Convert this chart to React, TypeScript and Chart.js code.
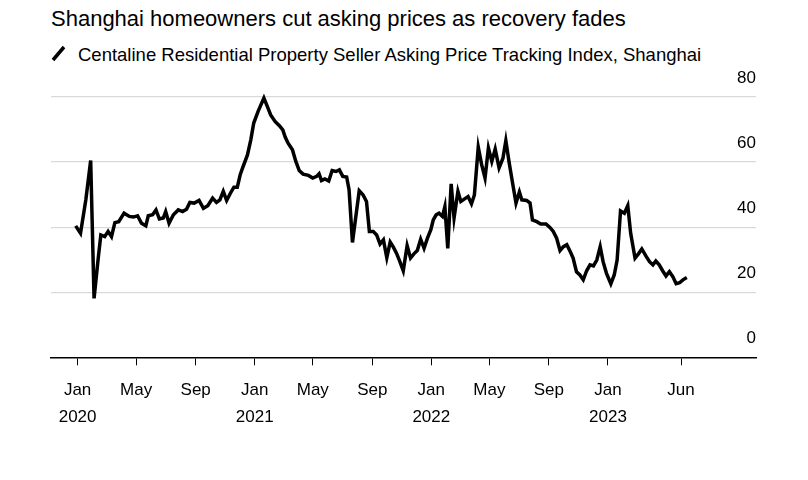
import React, { useEffect, useRef } from "react";
import { Chart, registerables } from "chart.js";

Chart.register(...registerables);

const FONT = '"Liberation Sans", Arial, Helvetica, sans-serif';

const title = "Shanghai homeowners cut asking prices as recovery fades";
const seriesName = "Centaline Residential Property Seller Asking Price Tracking Index, Shanghai";

const dates = [
  "2019-12-28", "2020-01-07", "2020-01-18", "2020-01-28", "2020-02-04", "2020-02-13", "2020-02-18", "2020-02-26",
  "2020-03-04", "2020-03-11", "2020-03-18", "2020-03-26", "2020-04-06", "2020-04-17", "2020-04-25", "2020-05-04",
  "2020-05-12", "2020-05-21", "2020-05-26", "2020-06-04", "2020-06-11", "2020-06-18", "2020-06-26", "2020-07-01",
  "2020-07-08", "2020-07-17", "2020-07-27", "2020-08-05", "2020-08-13", "2020-08-20", "2020-08-29", "2020-09-08",
  "2020-09-17", "2020-09-26", "2020-10-06", "2020-10-14", "2020-10-21", "2020-10-28", "2020-11-04", "2020-11-12",
  "2020-11-19", "2020-11-26", "2020-12-02", "2020-12-07", "2020-12-17", "2020-12-24", "2020-12-30", "2021-01-08",
  "2021-01-20", "2021-01-27", "2021-02-03", "2021-02-12", "2021-02-21", "2021-02-28", "2021-03-05", "2021-03-11",
  "2021-03-20", "2021-03-27", "2021-04-03", "2021-04-11", "2021-04-22", "2021-05-01", "2021-05-09", "2021-05-14",
  "2021-05-19", "2021-05-26", "2021-06-03", "2021-06-10", "2021-06-18", "2021-06-25", "2021-07-02", "2021-07-10",
  "2021-07-15", "2021-07-22", "2021-07-29", "2021-08-05", "2021-08-13", "2021-08-20", "2021-08-26", "2021-09-03",
  "2021-09-10", "2021-09-17", "2021-09-24", "2021-10-01", "2021-10-08", "2021-10-14", "2021-10-21", "2021-10-28",
  "2021-11-04", "2021-11-12", "2021-11-19", "2021-11-26", "2021-12-03", "2021-12-10", "2021-12-17", "2021-12-24",
  "2021-12-31", "2022-01-05", "2022-01-11", "2022-01-17", "2022-01-24", "2022-01-29", "2022-02-04", "2022-02-11",
  "2022-02-17", "2022-02-25", "2022-03-03", "2022-03-10", "2022-03-18", "2022-03-25", "2022-03-31", "2022-04-08",
  "2022-04-15", "2022-04-22", "2022-04-29", "2022-05-06", "2022-05-13", "2022-05-21", "2022-05-29", "2022-06-04",
  "2022-06-11", "2022-06-18", "2022-06-25", "2022-07-02", "2022-07-07", "2022-07-17", "2022-07-24", "2022-07-29",
  "2022-08-07", "2022-08-15", "2022-08-26", "2022-09-03", "2022-09-10", "2022-09-17", "2022-09-24", "2022-10-01",
  "2022-10-08", "2022-10-15", "2022-10-21", "2022-10-28", "2022-11-04", "2022-11-11", "2022-11-18", "2022-11-25",
  "2022-12-02", "2022-12-09", "2022-12-16", "2022-12-22", "2022-12-29", "2023-01-07", "2023-01-14", "2023-01-20",
  "2023-01-27", "2023-02-04", "2023-02-11", "2023-02-17", "2023-02-26", "2023-03-05", "2023-03-12", "2023-03-21",
  "2023-03-28", "2023-04-04", "2023-04-10", "2023-04-17", "2023-04-24", "2023-05-01", "2023-05-08", "2023-05-15",
  "2023-05-22", "2023-05-29", "2023-06-05", "2023-06-13",
];

const values = [
  40.4, 38.1, 48.4, 60.5, 18.1, 31.0, 37.6, 37.1,
  38.7, 37.1, 41.4, 41.7, 44.3, 43.3, 43.1, 43.5,
  41.2, 40.4, 43.5, 43.8, 45.3, 42.5, 42.8, 44.8,
  41.2, 43.8, 45.3, 44.8, 45.5, 47.6, 47.4, 48.2,
  45.8, 46.6, 48.9, 47.6, 48.4, 51.0, 48.2, 50.5,
  52.3, 52.3, 56.1, 58.2, 62.2, 66.9, 72.0, 75.6,
  79.7, 77.1, 74.5, 72.5, 71.2, 69.9, 67.7, 65.8,
  63.8, 60.2, 57.4, 56.3, 55.9, 55.1, 55.6, 56.4,
  54.3, 54.8, 54.2, 57.4, 57.1, 57.6, 55.6, 55.4,
  51.5, 35.3, 43.3, 51.2, 49.9, 47.9, 38.7, 38.7,
  37.6, 34.8, 36.1, 30.6, 35.4, 34.0, 32.0, 29.4,
  26.6, 34.3, 30.5, 31.8, 32.8, 36.3, 33.5, 36.6,
  39.2, 42.2, 43.8, 44.3, 43.3, 46.3, 33.5, 53.3,
  42.8, 51.0, 47.9, 48.6, 49.4, 47.2, 49.9, 64.6,
  59.2, 55.1, 64.3, 60.2, 64.0, 58.2, 61.2, 66.6,
  59.7, 53.5, 47.4, 50.8, 48.4, 48.2, 47.4, 42.2,
  41.7, 41.0, 41.0, 39.9, 38.7, 36.6, 32.8, 34.0,
  34.6, 32.5, 30.5, 26.3, 25.3, 23.8, 26.6, 28.4,
  28.1, 29.9, 34.0, 29.4, 25.8, 22.6, 25.3, 29.9,
  45.0, 44.3, 46.6, 38.1, 30.5, 31.8, 33.3, 31.0,
  29.4, 28.4, 29.6, 28.4, 26.6, 25.0, 26.3, 24.8,
  22.6, 22.9, 23.8, 24.5,
];

const tickDates = [
  "2020-01-01", "2020-05-01", "2020-09-01", "2021-01-01", "2021-05-01", "2021-09-01",
  "2022-01-01", "2022-05-01", "2022-09-01", "2023-01-01", "2023-06-01",
];
const tickLabels = [
  ["Jan", "2020"], "May", "Sep", ["Jan", "2021"], "May", "Sep",
  ["Jan", "2022"], "May", "Sep", ["Jan", "2023"], "Jun",
];
const yTicks = [0, 20, 40, 60, 80];

const dayNum = (s: string) => {
  const [y, m, d] = s.split("-").map(Number);
  return (Date.UTC(y, m - 1, d) - Date.UTC(2020, 0, 1)) / 86400000;
};

export default function App() {
  const ref = useRef<HTMLCanvasElement | null>(null);

  useEffect(() => {
    if (!ref.current) return;
    const tickDays = tickDates.map(dayNum);
    const chart = new Chart(ref.current, {
      type: "line",
      data: {
        datasets: [
          {
            label: seriesName,
            data: dates.map((d, i) => ({ x: dayNum(d), y: values[i] })),
            borderColor: "#000",
            borderWidth: 3.5,
            pointRadius: 0,
            tension: 0,
            fill: false,
            clip: false as any,
          },
        ],
      },
      options: {
        responsive: false,
        devicePixelRatio: 1,
        animation: false,
        layout: { padding: { left: 51, right: 52, top: 97, bottom: 37.7 } },
        plugins: { legend: { display: false }, tooltip: { enabled: false }, title: { display: false } },
        scales: {
          x: {
            type: "linear",
            min: -55,
            max: 1402,
            afterBuildTicks: (s: any) => {
              s.ticks = tickDays.map((v) => ({ value: v }));
            },
            ticks: {
              autoSkip: false,
              maxRotation: 0,
              minRotation: 0,
              padding: 11.5,
              color: "#000",
              font: { family: FONT, size: 17, lineHeight: 27 / 17 },
              callback: (_v: any, i: number) => tickLabels[i] as any,
            },
            grid: { drawOnChartArea: false, drawTicks: true, tickLength: 8, color: "#000", lineWidth: 1 },
            border: { display: true, color: "#000", width: 1.5 },
          },
          y: {
            position: "right",
            min: 0,
            max: 80,
            afterBuildTicks: (s: any) => {
              s.ticks = yTicks.map((v) => ({ value: v }));
            },
            ticks: {
              mirror: true,
              padding: 0,
              labelOffset: -19,
              color: "#000",
              font: { family: FONT, size: 17 },
            },
            grid: {
              drawTicks: false,
              lineWidth: 1.3,
              color: (ctx: any) => (ctx.tick && ctx.tick.value === 0 ? "rgba(0,0,0,0)" : "#d9d9d9"),
            },
            border: { display: false },
          },
        },
      },
    });
    return () => chart.destroy();
  }, []);

  return (
    <div style={{ position: "absolute", left: 0, top: 0, width: 808, height: 480, background: "#fff" }}>
      <div
        style={{
          position: "absolute",
          left: 51,
          top: 8,
          fontFamily: FONT,
          fontSize: 22,
          lineHeight: "22px",
          color: "#000",
          whiteSpace: "nowrap",
        }}
      >
        {title}
      </div>
      <svg style={{ position: "absolute", left: 50, top: 44 }} width={18} height={20}>
        <line x1={3} y1={16} x2={14} y2={3} stroke="#000" strokeWidth={3.5} />
      </svg>
      <div
        style={{
          position: "absolute",
          left: 78,
          top: 46,
          fontFamily: FONT,
          fontSize: 18.5,
          lineHeight: "18.5px",
          color: "#000",
          whiteSpace: "nowrap",
        }}
      >
        {seriesName}
      </div>
      <canvas ref={ref} width={808} height={480} style={{ position: "absolute", left: 0, top: 0 }} />
    </div>
  );
}
